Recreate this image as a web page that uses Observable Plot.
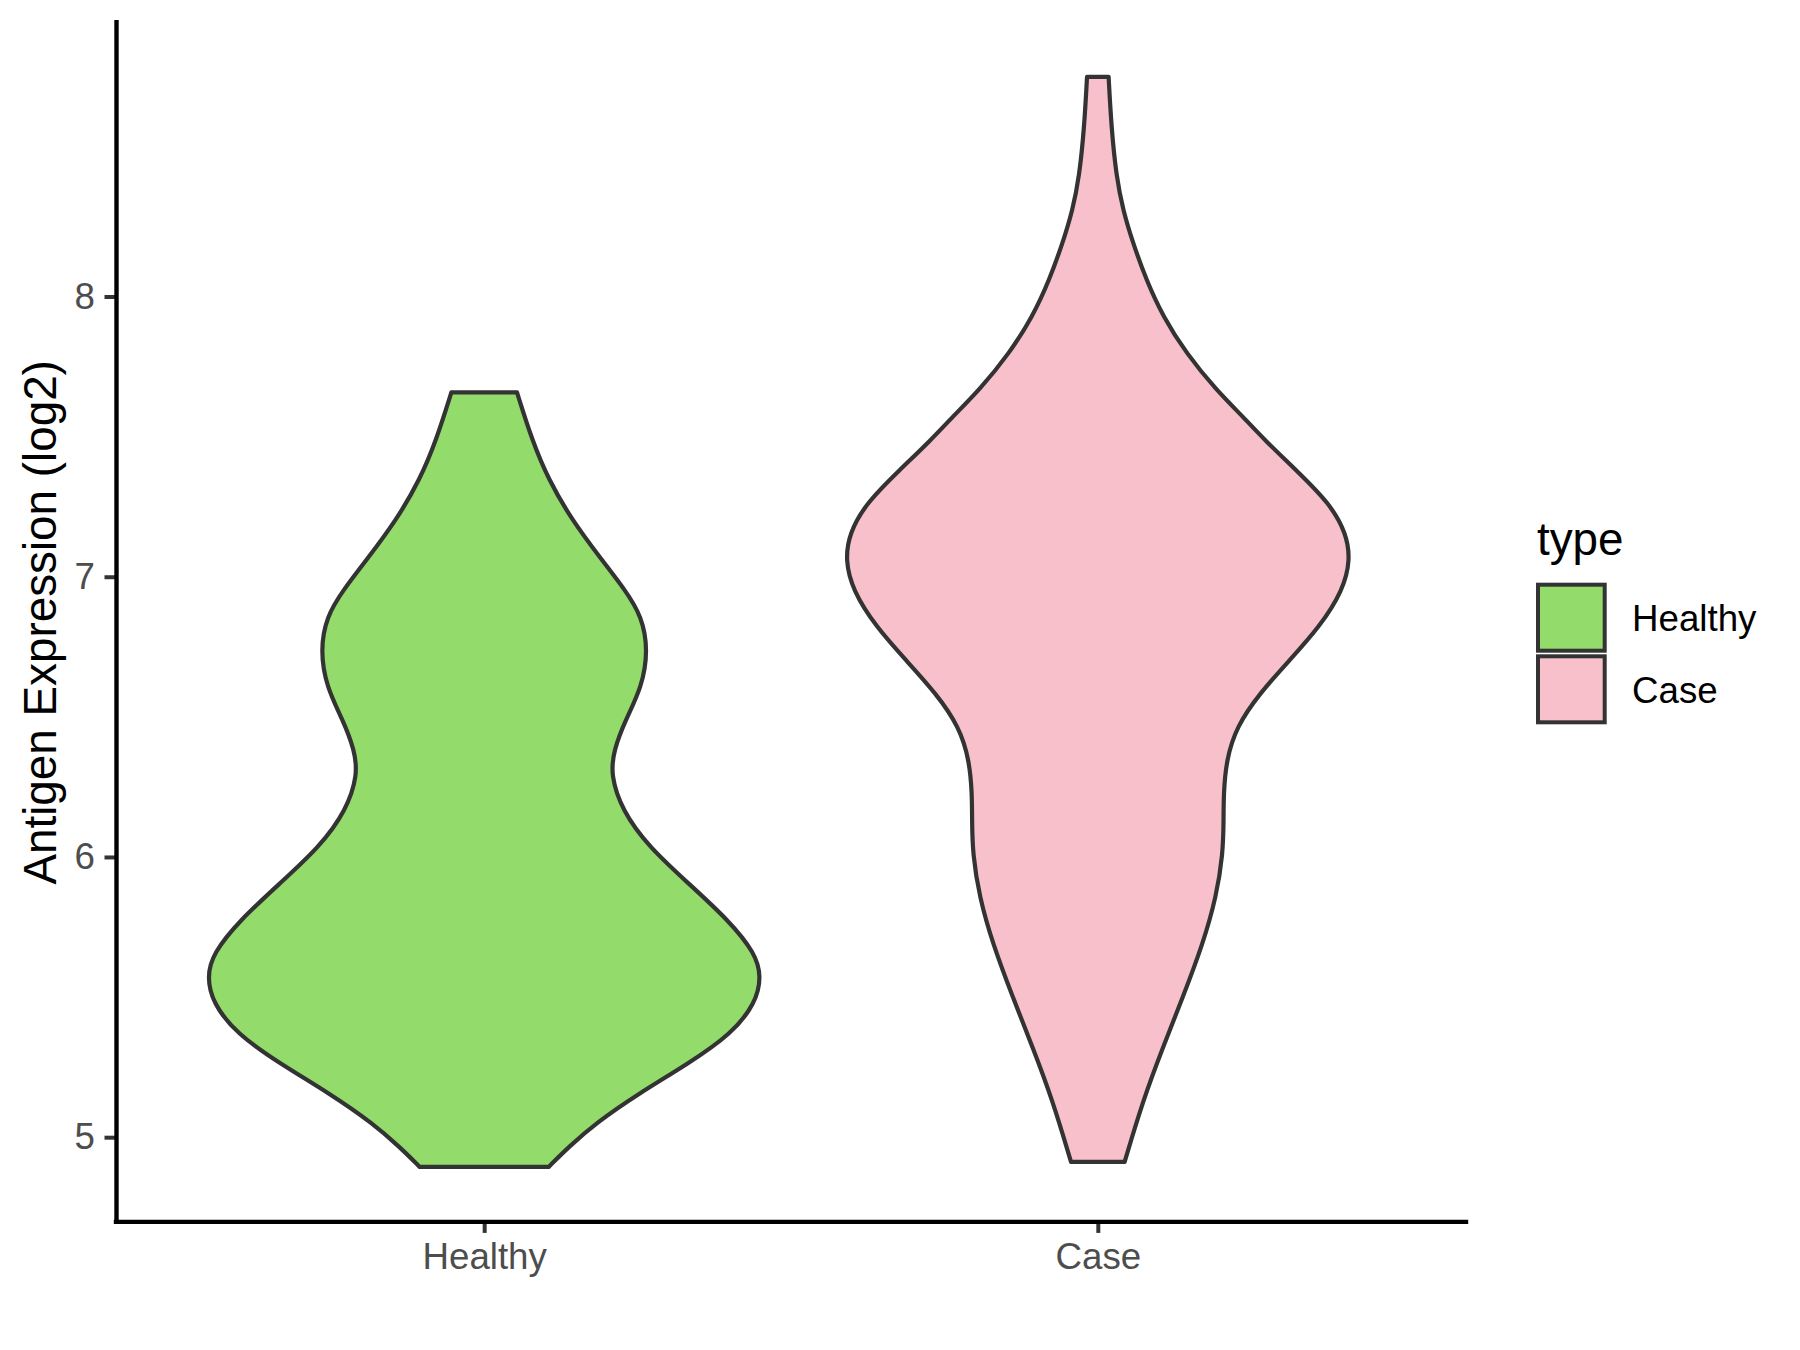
<!DOCTYPE html>
<html>
<head>
<meta charset="utf-8">
<script src="https://cdn.jsdelivr.net/npm/d3@7"></script>
<script src="https://cdn.jsdelivr.net/npm/@observablehq/plot@0.6"></script>
<style>
  html, body { margin: 0; padding: 0; background: #fff; }
  #wrap { position: relative; width: 1800px; height: 1350px; font-family: 'Liberation Sans', Arial, sans-serif; }
  #legend { position: absolute; left: 0; top: 0; pointer-events: none; }
</style>
</head>
<body>
<div id="wrap"></div>
<script>
// ---- data ----
const categories = ["Healthy", "Case"];
const fillColors = ["#93DB6A", "#F7C0CB"];
const legendTitle = "type";
const yTitle = "Antigen Expression (log2)";
const yTicks = [5, 6, 7, 8];

// violin outlines: expression value and half-width (in category units)
const healthyValue = [7.658, 7.488, 7.345, 7.202, 7.059, 6.952, 6.857, 6.738, 6.607, 6.488, 6.381, 6.292, 6.167, 6.036, 5.905, 5.774, 5.656, 5.572, 5.477, 5.370, 5.263, 5.156, 5.049, 4.965, 4.894];
const healthyHalfWidth = [0.0535, 0.0779, 0.1051, 0.1431, 0.1920, 0.2301, 0.2572, 0.2670, 0.2572, 0.2301, 0.2111, 0.2062, 0.2246, 0.2681, 0.3333, 0.3985, 0.4420, 0.4518, 0.4420, 0.4038, 0.3333, 0.2518, 0.1812, 0.1377, 0.1051];

const caseValue = [8.784, 8.606, 8.427, 8.308, 8.190, 8.059, 7.928, 7.797, 7.666, 7.571, 7.488, 7.380, 7.262, 7.155, 7.059, 6.952, 6.821, 6.702, 6.584, 6.464, 6.345, 6.227, 6.131, 6.012, 5.858, 5.691, 5.501, 5.322, 5.132, 4.912];
const caseHalfWidth = [0.0176, 0.0220, 0.0302, 0.0411, 0.0574, 0.0790, 0.1063, 0.1442, 0.1931, 0.2366, 0.2718, 0.3235, 0.3778, 0.4050, 0.4115, 0.3996, 0.3615, 0.3126, 0.2637, 0.2257, 0.2094, 0.2050, 0.2050, 0.2040, 0.1931, 0.1714, 0.1389, 0.1063, 0.0737, 0.0437];

// ---- build table ----
const seriesValues = [healthyValue, caseValue];
const seriesWidths = [healthyHalfWidth, caseHalfWidth];
const rows = categories.flatMap((cat, i) =>
  seriesValues[i].map((v, j) => ({cat, pos: i + 1, v, hw: seriesWidths[i][j]}))
);

// ggplot-like expansion
const allV = seriesValues.flat();
const vMin = d3.min(allV), vMax = d3.max(allV);
const span = vMax - vMin;
const yDomain = [vMin - 0.05 * span, vMax + 0.05 * span];
const xDomain = [1 - 0.6, categories.length + 0.6];

const FONT = "'Liberation Sans', Arial, sans-serif";

const chart = Plot.plot({
  width: 1800,
  height: 1350,
  marginLeft: 116,
  marginRight: 334,
  marginTop: 22.3,
  marginBottom: 128.6,
  style: {fontFamily: FONT, background: "white", overflow: "visible"},
  x: {domain: xDomain},
  y: {domain: yDomain},
  marks: [
    ...categories.map((c, i) =>
      Plot.areaX(rows.filter(r => r.cat === c), {
        y: "v",
        x1: r => r.pos - r.hw,
        x2: r => r.pos + r.hw,
        fill: fillColors[i],
        stroke: "#333333",
        strokeWidth: 4.2,
        curve: "basis"
      })
    ),
    Plot.axisY({
      ticks: yTicks, tickFormat: d3.format("d"), tickSize: 11.5, tickPadding: 10, fontSize: 36.7,
      fill: "#4D4D4D", stroke: "#333333", strokeWidth: 4, label: null
    }),
    Plot.axisX({
      ticks: categories.map((_, i) => i + 1),
      tickFormat: d => categories[d - 1],
      tickSize: 11.5, tickPadding: 9.5, fontSize: 36.7,
      fill: "#4D4D4D", stroke: "#333333", strokeWidth: 4, label: null
    }),
    Plot.ruleX([xDomain[0]], {stroke: "black", strokeWidth: 4.4, strokeLinecap: "square"}),
    Plot.ruleY([yDomain[0]], {stroke: "black", strokeWidth: 4.4, strokeLinecap: "square"}),
    Plot.text([yTitle], {
      text: d => d, frameAnchor: "left", textAnchor: "middle", lineAnchor: "middle",
      dx: -75, rotate: -90, fontSize: 45.8, fill: "black"
    })
  ]
});

const wrap = document.getElementById("wrap");
wrap.appendChild(chart);

// ---- legend ----
const leg = d3.select(wrap).append("svg")
  .attr("id", "legend")
  .attr("width", 1800).attr("height", 1350)
  .style("font-family", FONT);

leg.append("text")
  .attr("x", 1537).attr("y", 555)
  .attr("font-size", 45.8).attr("fill", "black")
  .text(legendTitle);

categories.forEach((c, i) => {
  const top = 584.7 + i * 71.6;
  leg.append("rect")
    .attr("x", 1538).attr("y", top)
    .attr("width", 66.7).attr("height", 66)
    .attr("fill", fillColors[i])
    .attr("stroke", "#333333").attr("stroke-width", 4);
  leg.append("text")
    .attr("x", 1632).attr("y", top + 46.3)
    .attr("font-size", 36.7).attr("fill", "black")
    .text(c);
});
</script>
</body>
</html>
